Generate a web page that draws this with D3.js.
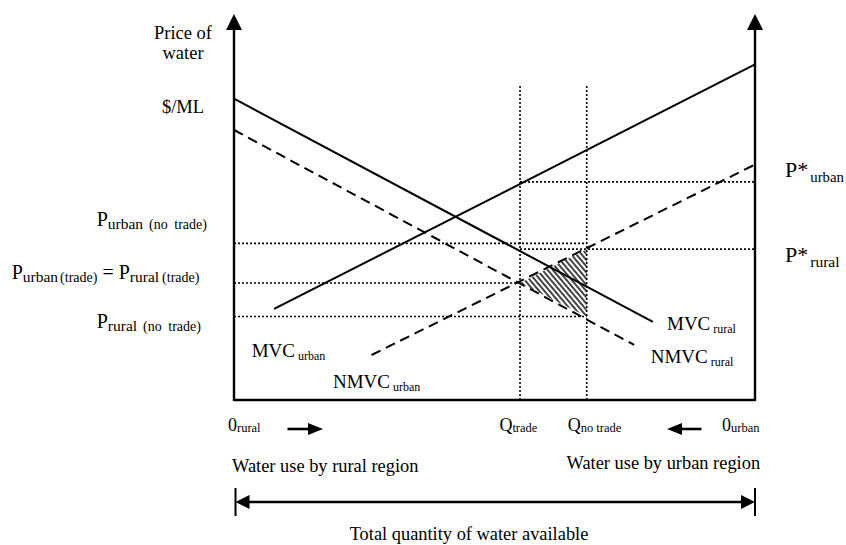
<!DOCTYPE html>
<html><head><meta charset="utf-8">
<script src="https://cdn.jsdelivr.net/npm/d3@7"></script>
<style>
body{margin:0;background:#fff}
svg{display:block}
text{font-family:"Liberation Serif","Times New Roman",serif;fill:#000;white-space:pre}
</style>
</head><body>
<svg id="c" width="846" height="545"></svg>
<script>
// ---------- data ----------
const curveNames   = ["MVC rural", "NMVC rural", "MVC urban", "NMVC urban"];
const curveStartQ  = [0, 0, 7.7, 26.4];
const curveStartP  = [83.7, 75.0, 25.3, 12.5];
const curveEndQ    = [80.4, 76.8, 100, 100];
const curveEndP    = [21.7, 15.3, 93.2, 65.4];
const curveDashed  = [false, true, false, true];

const quantityNames  = ["Q trade", "Q no trade"];
const quantityValues = [54.9, 67.7];

const priceNames  = ["P* urban", "P urban (no trade)", "P* rural", "P trade", "P rural (no trade)"];
const priceValues = [60.6, 43.5, 41.9, 32.5, 23.2];
const priceFrom   = [54.9, 0, 54.9, 0, 0];
const priceTo     = [100, 67.7, 100, 54.9, 67.7];

const guideTop = 87.5;   // top of the vertical guide lines (price units)
const axisTop  = 107.2;  // tip of the price axes (price units)
const qMin = 0, qMax = 100;

// ---------- scales ----------
const svg = d3.select("#c");
const x = d3.scaleLinear().domain([qMin, qMax]).range([234, 755]);
const y = d3.scaleLinear().domain([0, 100]).range([400, 40]);

// hatch pattern
const defs = svg.append("defs");
const pat = defs.append("pattern").attr("id", "hatch")
  .attr("patternUnits", "userSpaceOnUse").attr("width", 4).attr("height", 4)
  .attr("patternTransform", "rotate(-40)");
pat.append("line").attr("x1", 2).attr("y1", -1).attr("x2", 2).attr("y2", 5)
  .attr("stroke", "#444").attr("stroke-width", 2);

// hatched triangle (loss area)
const tri = [[quantityValues[0], priceValues[3]], [quantityValues[1], priceValues[2]], [quantityValues[1], priceValues[4]]];
svg.append("path")
  .attr("d", d3.line().x(d => x(d[0])).y(d => y(d[1]))(tri) + "Z")
  .attr("fill", "url(#hatch)").attr("stroke", "none");

// dotted guides
const dot = "2,2";
svg.selectAll(".vq").data(quantityValues).join("line")
  .attr("x1", d => x(d)).attr("x2", d => x(d))
  .attr("y1", y(0)).attr("y2", y(guideTop))
  .attr("stroke", "#000").attr("stroke-width", 1.6).attr("stroke-dasharray", dot);
svg.selectAll(".hp").data(priceValues).join("line")
  .attr("x1", (d, i) => x(priceFrom[i])).attr("x2", (d, i) => x(priceTo[i]))
  .attr("y1", d => y(d)).attr("y2", d => y(d))
  .attr("stroke", "#000").attr("stroke-width", 1.6).attr("stroke-dasharray", dot);

// curves
svg.selectAll(".curve").data(curveNames).join("line")
  .attr("x1", (d, i) => x(curveStartQ[i])).attr("y1", (d, i) => y(curveStartP[i]))
  .attr("x2", (d, i) => x(curveEndQ[i])).attr("y2", (d, i) => y(curveEndP[i]))
  .attr("stroke", "#000").attr("stroke-width", 2)
  .attr("stroke-dasharray", (d, i) => curveDashed[i] ? "10,6" : null);

// axes
const axisW = 2.4;
[qMin, qMax].forEach(q => {
  svg.append("line").attr("x1", x(q)).attr("x2", x(q)).attr("y1", y(0) + 1).attr("y2", y(axisTop) + 14)
    .attr("stroke", "#000").attr("stroke-width", axisW);
  const tx = x(q), ty = y(axisTop);
  svg.append("path").attr("d", `M${tx},${ty} L${tx - 8},${ty + 16} L${tx + 8},${ty + 16} Z`).attr("fill", "#000");
});
svg.append("line").attr("x1", x(qMin)).attr("x2", x(qMax)).attr("y1", y(0)).attr("y2", y(0))
  .attr("stroke", "#000").attr("stroke-width", axisW);

// ---------- text helper ----------
function rich(xp, yp, parts, anchor) {
  const t = svg.append("text").attr("x", xp).attr("y", yp).attr("text-anchor", anchor || "start");
  let prev = 0;
  parts.forEach(p => {
    const s = t.append("tspan").text(p[0]).attr("font-size", p[1]).attr("dy", (p[2] || 0) - prev);
    if (p[3]) s.attr("dx", p[3]);
    prev = p[2] || 0;
  });
  return t;
}

// axis title
rich(183, 39, [["Price of", 18.5]], "middle");
rich(183, 58.5, [["water", 18.5]], "middle");
rich(183, 113, [["$/ML", 18.5]], "middle");

// left price labels
rich(96.7, 226, [["P", 20], ["urban", 15.5, 3], ["(no trade)", 14, 3, 6]]).attr("word-spacing", 3);
rich(11.7, 279, [["P", 20], ["urban", 15.5, 3], ["(trade)", 14, 3, 2], [" = ", 20, 0], ["P", 20, 0], ["rural", 15.5, 3], ["(trade)", 14, 3, 3]]);
rich(96.7, 327.7, [["P", 20], ["rural", 15.5, 3], ["(no trade)", 14, 3, 6]]).attr("word-spacing", 3);

// right price labels
rich(785, 176.7, [["P*", 22], ["urban", 14.8, 5, 2]]);
rich(785, 261.7, [["P*", 22], ["rural", 15.5, 5, 2]]);

// curve labels
rich(667, 330, [["MVC", 19], [" rural", 12, 3]]);
rich(650.7, 363, [["NMVC", 19], [" rural", 12, 3]]);
rich(251.7, 356.7, [["MVC", 19], [" urban", 12, 3]]);
rich(333, 388, [["NMVC", 19], [" urban", 12, 3]]);

// quantity labels
rich(228, 430.7, [["0", 18], ["rural", 12.5, 1.5]]);
rich(499.4, 430.7, [["Q", 18], ["trade", 12.5, 1.5]]);
rich(567.7, 430.7, [["Q", 18], ["no trade", 12.5, 1.5]]);
rich(722, 430.7, [["0", 18], ["urban", 12.5, 1.5]]);

// direction arrows
function arrow(x0, x1, yy, len, half, w) {
  const dir = Math.sign(x1 - x0);
  svg.append("line").attr("x1", x0).attr("x2", x1 - dir * len + dir).attr("y1", yy).attr("y2", yy)
    .attr("stroke", "#000").attr("stroke-width", w);
  svg.append("path").attr("d", `M${x1},${yy} L${x1 - dir * len},${yy - half} L${x1 - dir * len},${yy + half} Z`).attr("fill", "#000");
}
arrow(287.5, 323, 429, 15, 6, 2.6);
arrow(701.5, 667, 429, 15, 6, 2.6);

rich(232, 471.7, [["Water use by rural region", 18.4]]);
rich(566.5, 469, [["Water use by urban region", 18.4]]);

// total quantity double arrow
const ay = 502;
const ax0 = x(qMin) + 1.5, ax1 = x(qMax);
svg.append("line").attr("x1", ax0 + 10).attr("x2", ax1 - 10).attr("y1", ay).attr("y2", ay)
  .attr("stroke", "#000").attr("stroke-width", 2.4);
svg.append("path").attr("d", `M${ax0},${ay} L${ax0 + 14},${ay - 7} L${ax0 + 14},${ay + 7} Z`).attr("fill", "#000");
svg.append("path").attr("d", `M${ax1},${ay} L${ax1 - 14},${ay - 7} L${ax1 - 14},${ay + 7} Z`).attr("fill", "#000");
[ax0, ax1].forEach(v => svg.append("line").attr("x1", v).attr("x2", v).attr("y1", ay - 14).attr("y2", ay + 14)
  .attr("stroke", "#000").attr("stroke-width", 2));

rich(469, 540, [["Total quantity of water available", 18.4]], "middle");
</script>
</body></html>
